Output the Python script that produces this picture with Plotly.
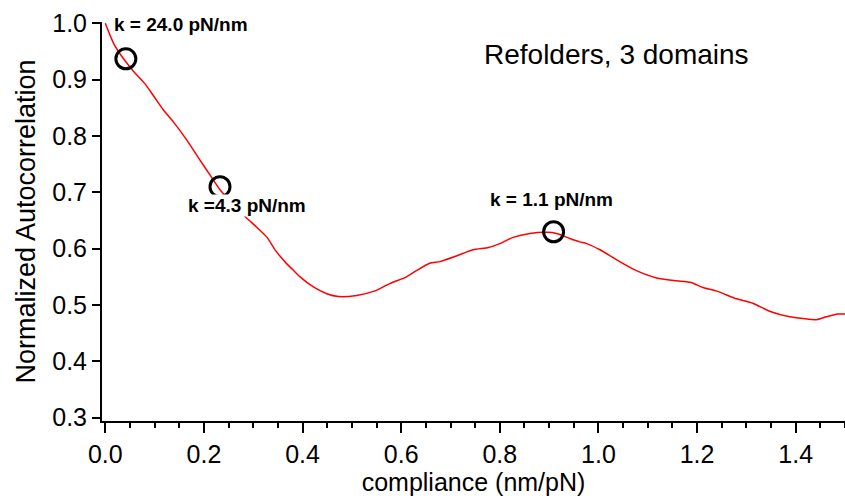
import plotly.graph_objects as go

# Autocorrelation trace vs. compliance
compliance = [0.000, 0.017, 0.037, 0.057, 0.081, 0.098, 0.118, 0.138, 0.165, 0.192,
              0.213, 0.233, 0.260, 0.287, 0.307, 0.328, 0.345, 0.355, 0.368, 0.381,
              0.395, 0.422, 0.449, 0.473, 0.510, 0.547, 0.577, 0.611, 0.631, 0.658,
              0.679, 0.712, 0.746, 0.777, 0.800, 0.827, 0.861, 0.895, 0.915, 0.942,
              0.962, 0.976, 1.003, 1.043, 1.077, 1.118, 1.158, 1.188, 1.212, 1.239,
              1.280, 1.313, 1.347, 1.388, 1.415, 1.442, 1.462, 1.485, 1.500]
autocorr = [1.000, 0.964, 0.937, 0.915, 0.892, 0.871, 0.846, 0.825, 0.793, 0.757,
            0.730, 0.704, 0.678, 0.654, 0.638, 0.620, 0.597, 0.586, 0.573, 0.562,
            0.550, 0.532, 0.520, 0.515, 0.517, 0.525, 0.538, 0.550, 0.561, 0.574,
            0.577, 0.587, 0.598, 0.602, 0.609, 0.620, 0.627, 0.629, 0.627, 0.618,
            0.612, 0.609, 0.598, 0.577, 0.561, 0.548, 0.543, 0.540, 0.531, 0.525,
            0.511, 0.503, 0.489, 0.479, 0.476, 0.474, 0.479, 0.484, 0.484]

# Marked stiffness points (compliance = 1/k)
stiffness = [24.0, 4.3, 1.1]
marker_corr = [0.937, 0.710, 0.630]
marker_labels = ["k = 24.0 pN/nm", "k =4.3 pN/nm", "k = 1.1 pN/nm"]
marker_compliance = [1.0 / k for k in stiffness]

x_ticks = [0.0, 0.2, 0.4, 0.6, 0.8, 1.0, 1.2, 1.4]
y_ticks = [0.3, 0.4, 0.5, 0.6, 0.7, 0.8, 0.9, 1.0]

FONT = "Liberation Sans, Arial, Helvetica, sans-serif"

fig = go.Figure()
fig.add_trace(go.Scatter(
    x=compliance, y=autocorr, mode="lines",
    line=dict(color="#ff0000", width=1.5, shape="spline", smoothing=0.6),
    showlegend=False,
))
fig.add_trace(go.Scatter(
    x=marker_compliance, y=marker_corr, mode="markers",
    marker=dict(symbol="circle-open", size=20, color="black",
                line=dict(color="black", width=3)),
    showlegend=False,
))

# Label placement in axis-fraction coordinates
label_pos = [
    dict(x=0.015, y=0.993, xanchor="left"),
    dict(x=0.115, y=0.541, xanchor="left"),
    dict(x=0.605, y=0.554, xanchor="center"),
]
for text, pos in zip(marker_labels, label_pos):
    fig.add_annotation(
        text="<b>" + text + "</b>", xref="paper", yref="paper",
        x=pos["x"], y=pos["y"], xanchor=pos["xanchor"], yanchor="middle",
        showarrow=False, font=dict(family=FONT, size=19, color="black"),
        bgcolor="white", borderpad=0,
    )

fig.add_annotation(
    text="Refolders, 3 domains", xref="paper", yref="paper",
    x=0.692, y=0.918, xanchor="center", yanchor="middle", showarrow=False,
    font=dict(family=FONT, size=28, color="black"),
)

fig.update_layout(
    width=845, height=499,
    margin=dict(l=102, r=0, t=22, b=78),
    paper_bgcolor="white", plot_bgcolor="white",
    font=dict(family=FONT, size=25, color="black"),
    xaxis=dict(
        range=[-0.0067, 1.5], tickvals=x_ticks, tickformat=".1f",
        showgrid=False, zeroline=False, showline=True, linecolor="black",
        linewidth=2, ticks="outside", ticklen=10, tickwidth=2, tickcolor="black",
        minor=dict(dtick=0.05, ticks="outside", ticklen=5, tickwidth=2,
                   tickcolor="black", showgrid=False),
        title=dict(text="compliance (nm/pN)", font=dict(size=25), standoff=2),
        tickfont=dict(size=25),
    ),
    yaxis=dict(
        range=[0.2941, 1.0023], tickvals=y_ticks, tickformat=".1f",
        showgrid=False, zeroline=False, showline=True, linecolor="black",
        linewidth=2, ticks="outside", ticklen=8, tickwidth=2, tickcolor="black",
        title=dict(text="Normalized Autocorrelation", font=dict(size=27), standoff=9),
        tickfont=dict(size=25),
    ),
)

fig.write_html("out.html")
